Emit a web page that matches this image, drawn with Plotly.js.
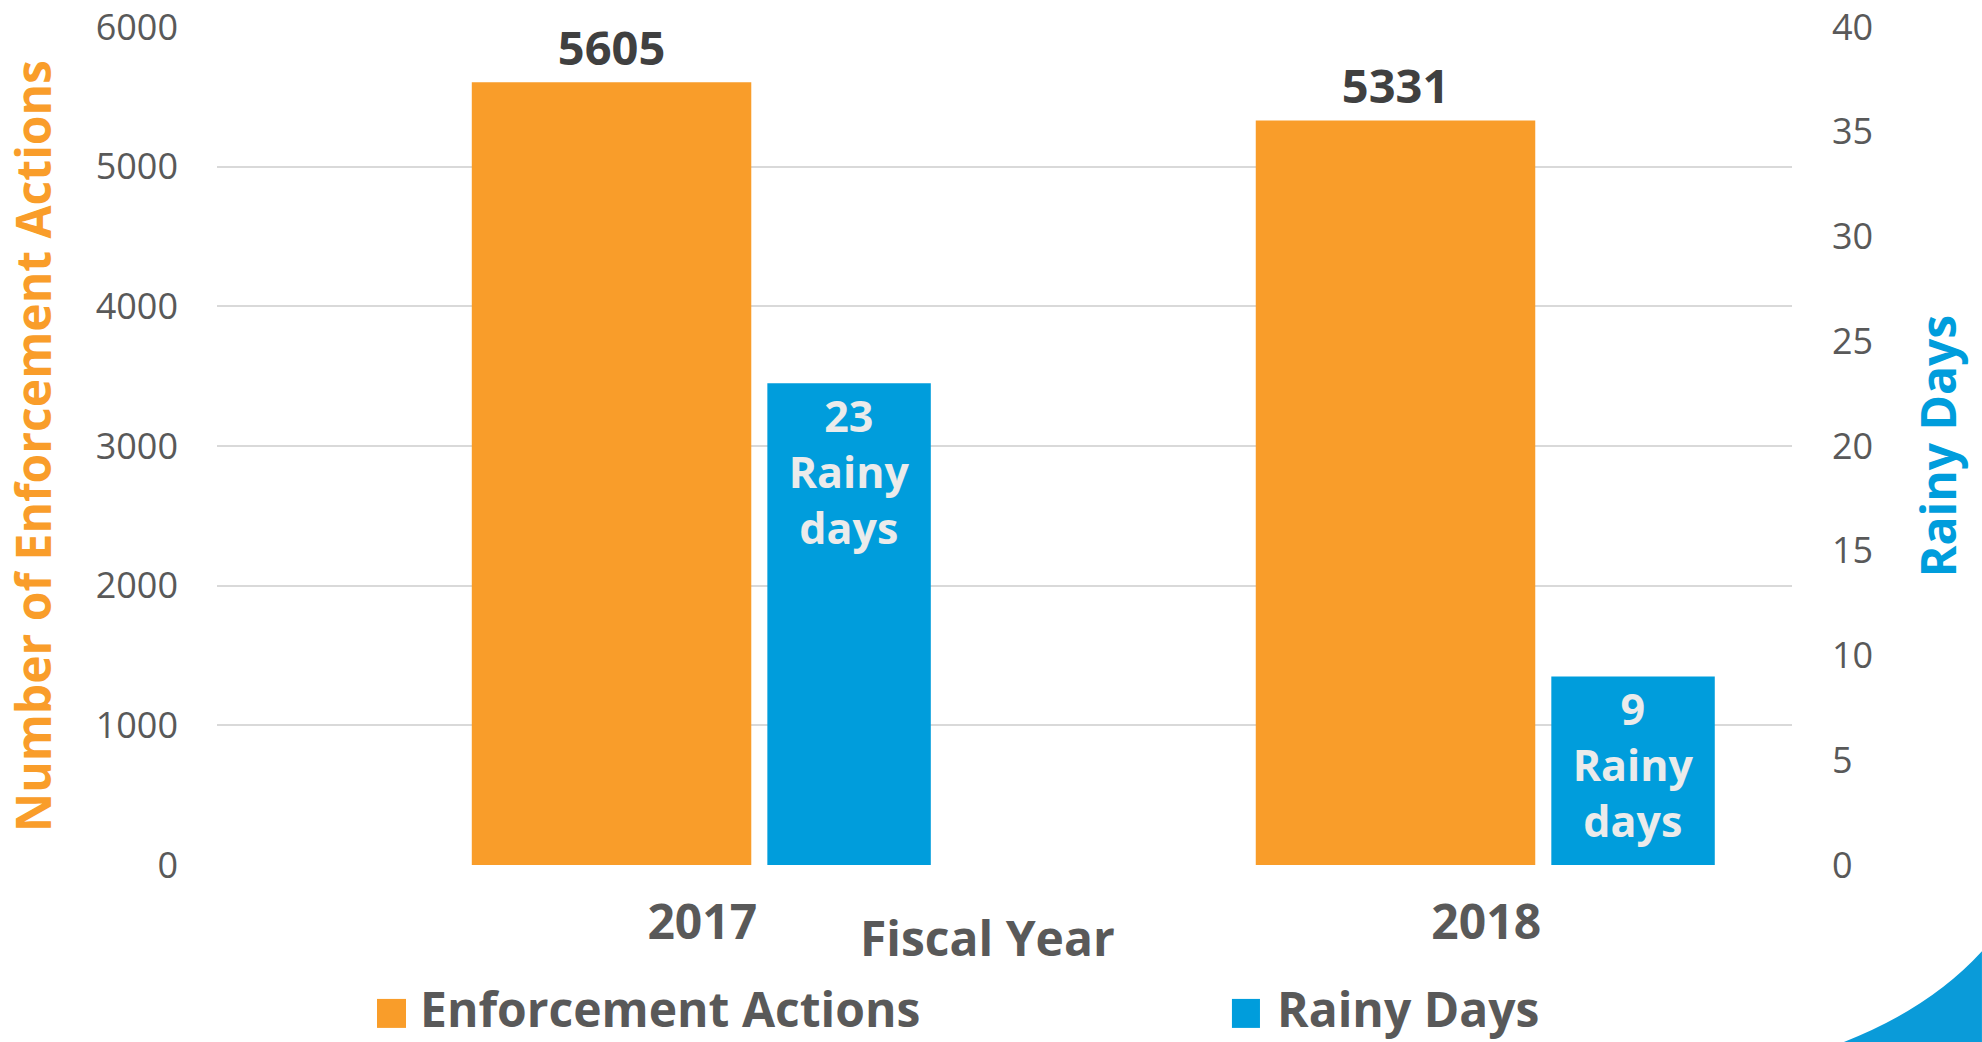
<!DOCTYPE html>
<html>
<head>
<meta charset="utf-8">
<script src="https://cdn.plot.ly/plotly-3.0.1.min.js"></script>
<style>
  html, body { margin: 0; padding: 0; background: #ffffff; }
  #chart { width: 1982px; height: 1042px; }
</style>
</head>
<body>
<div id="chart"></div>
<script>
// ---- data ----
const fiscalYears = ["2017", "2018"];
const enforcementActions = [5605, 5331];
const rainyDays = [23, 9];
const seriesNames = ["Enforcement Actions", "Rainy Days"];
const xAxisTitle = "Fiscal Year";
const leftAxisTitle = "Number of Enforcement Actions";
const rightAxisTitle = "Rainy Days";
const rainyLabelSuffix = "Rainy<br>days";

// ---- styles ----
const ORANGE = "#F99D2A";
const BLUE = "#009DDC";
const GREY = "#595959";
const FONT = "Open Sans, Noto Sans, DejaVu Sans, sans-serif";

const traces = [
  {
    type: "bar",
    name: seriesNames[0],
    x: fiscalYears,
    y: enforcementActions,
    yaxis: "y",
    marker: { color: ORANGE },
    offset: -0.294,
    width: 0.3565,
    text: enforcementActions.map(String),
    textposition: "outside",
    cliponaxis: false,
    constraintext: "none",
    textfont: { family: FONT, size: 47, color: "#404040", weight: "bold" },
    showlegend: false,
    hoverinfo: "x+y+name"
  },
  {
    type: "bar",
    name: seriesNames[1],
    x: fiscalYears,
    y: rainyDays,
    yaxis: "y2",
    marker: { color: BLUE },
    offset: 0.083,
    width: 0.2085,
    texttemplate: "%{y}<br>" + rainyLabelSuffix,
    textposition: "inside",
    insidetextanchor: "end",
    textangle: 0,
    constraintext: "none",
    insidetextfont: { family: FONT, size: 43, color: "#EBEBEB", weight: "bold" },
    showlegend: false,
    hoverinfo: "x+y+name"
  }
];

// decorations in paper coordinates (plot area: x 217..1792, y 27..865 px)
const annotations = [
  {
    xref: "paper", yref: "paper", x: 0.4895, y: -0.086,
    xanchor: "center", yanchor: "middle", showarrow: false,
    text: xAxisTitle,
    font: { family: FONT, size: 48, color: GREY, weight: "bold" }
  },
  {
    xref: "paper", yref: "paper", x: 0.1276, y: -0.2120,
    xanchor: "left", yanchor: "bottom", showarrow: false,
    text: seriesNames[0],
    font: { family: FONT, size: 48, color: GREY, weight: "bold" }
  },
  {
    xref: "paper", yref: "paper", x: 0.6717, y: -0.2120,
    xanchor: "left", yanchor: "bottom", showarrow: false,
    text: seriesNames[1],
    font: { family: FONT, size: 48, color: GREY, weight: "bold" }
  }
];

const shapes = [
  { type: "rect", xref: "paper", yref: "paper",
    x0: 0.1016, x1: 0.1200, y0: -0.1598, y1: -0.1944,
    fillcolor: ORANGE, line: { width: 0 } },
  { type: "rect", xref: "paper", yref: "paper",
    x0: 0.6444, x1: 0.6622, y0: -0.1598, y1: -0.1944,
    fillcolor: BLUE, line: { width: 0 } },
  { type: "path", xref: "paper", yref: "paper",
    path: "M 1.1206,-0.1030 Q 1.0876,-0.1710 1.0330,-0.2111 L 1.1206,-0.2111 Z",
    fillcolor: "#0A9BD9", line: { width: 0 }, layer: "below" }
];

const layout = {
  width: 1982,
  height: 1042,
  margin: { l: 217, r: 190, t: 27, b: 177, pad: 0 },
  paper_bgcolor: "#ffffff",
  plot_bgcolor: "#ffffff",
  font: { family: FONT, color: GREY },
  barmode: "overlay",
  showlegend: false,
  xaxis: {
    type: "category",
    range: [-0.619, 1.39],
    showgrid: false,
    zeroline: false,
    showline: false,
    ticks: "",
    ticklabelstandoff: 25,
    tickfont: { family: FONT, size: 48, color: GREY, weight: "bold" },
    fixedrange: true
  },
  yaxis: {
    range: [0, 6000],
    dtick: 1000,
    tick0: 0,
    showgrid: true,
    gridcolor: "#D9D9D9",
    gridwidth: 2,
    zeroline: false,
    showline: false,
    ticks: "",
    ticklabelstandoff: 38,
    tickfont: { family: FONT, size: 36, color: GREY },
    title: {
      text: leftAxisTitle,
      font: { family: FONT, size: 48, color: ORANGE, weight: "bold" },
      standoff: 30
    },
    fixedrange: true
  },
  yaxis2: {
    overlaying: "y",
    side: "right",
    range: [0, 40],
    dtick: 5,
    tick0: 0,
    showgrid: false,
    zeroline: false,
    showline: false,
    ticks: "",
    ticklabelstandoff: 39,
    tickfont: { family: FONT, size: 36, color: GREY },
    title: {
      text: rightAxisTitle,
      font: { family: FONT, size: 48, color: BLUE, weight: "bold" },
      standoff: 50
    },
    fixedrange: true
  },
  annotations: annotations,
  shapes: shapes
};

Plotly.newPlot("chart", traces, layout, { displayModeBar: false, responsive: false });
</script>
</body>
</html>
